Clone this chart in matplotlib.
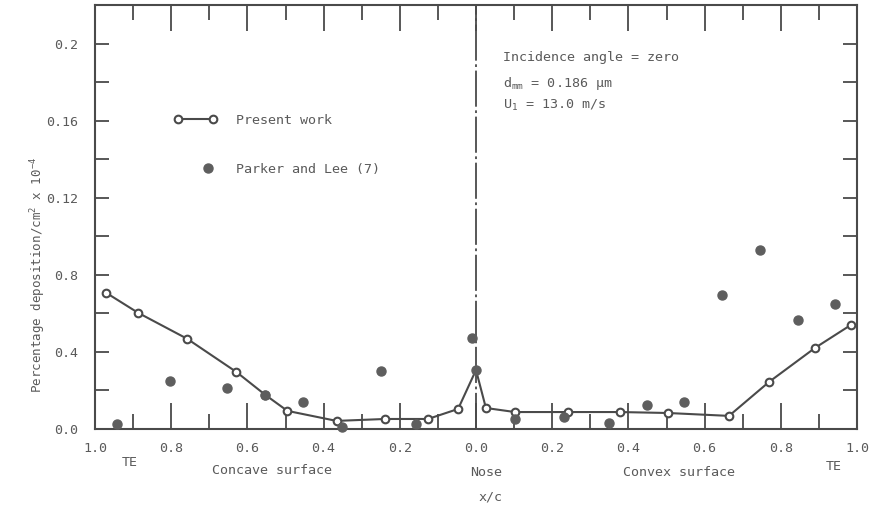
import numpy as np
import matplotlib
matplotlib.use('Agg')
import matplotlib.pyplot as plt
from matplotlib.ticker import FixedLocator, MultipleLocator
from matplotlib.legend_handler import HandlerLine2D

# typewriter look
plt.rcParams['font.family'] = ['DejaVu Sans Mono']
plt.rcParams['mathtext.fontset'] = 'custom'
plt.rcParams['mathtext.rm'] = 'DejaVu Sans Mono'
plt.rcParams['mathtext.it'] = 'DejaVu Sans Mono'
plt.rcParams['mathtext.tt'] = 'DejaVu Sans Mono'

# ---------------------------------------------------------------------------
# data (x/c along each surface, deposition values)
# ---------------------------------------------------------------------------
# Present work, concave surface (TE -> nose)
pw_concave_x = [0.971, 0.887, 0.758, 0.629, 0.553, 0.495, 0.366, 0.239, 0.126, 0.047]
pw_concave_y = [0.0707, 0.0603, 0.0468, 0.0296, 0.0177, 0.0094, 0.0042, 0.0052, 0.0052, 0.0104]
# Present work, nose peak
pw_nose_y = 0.0306
# Present work, convex surface (nose -> TE)
pw_convex_x = [0.026, 0.102, 0.242, 0.378, 0.504, 0.664, 0.769, 0.890, 0.984]
pw_convex_y = [0.0109, 0.0088, 0.0088, 0.0088, 0.0083, 0.0068, 0.0244, 0.0421, 0.0540]

# Parker and Lee (7)
pl_concave_x = [0.942, 0.803, 0.653, 0.553, 0.453, 0.353, 0.250, 0.158, 0.011]
pl_concave_y = [0.0026, 0.0249, 0.0213, 0.0177, 0.0140, 0.0010, 0.0301, 0.0026, 0.0472]
pl_convex_x = [0.0, 0.102, 0.231, 0.349, 0.449, 0.546, 0.646, 0.746, 0.844, 0.941]
pl_convex_y = [0.0306, 0.0052, 0.0062, 0.0031, 0.0125, 0.0140, 0.0696, 0.0930, 0.0566, 0.0650]

y_ticks = [0.0, 0.04, 0.08, 0.12, 0.16, 0.2]
y_ticklabels = ['0.0', '0.4', '0.8', '0.12', '0.16', '0.2']
x_ticks = [-1.0, -0.8, -0.6, -0.4, -0.2, 0.0, 0.2, 0.4, 0.6, 0.8, 1.0]
x_ticklabels = ['1.0', '0.8', '0.6', '0.4', '0.2', '0.0', '0.2', '0.4', '0.6', '0.8', '1.0']

# concave surface is plotted to the left of the nose
pw_s = [-v for v in pw_concave_x] + [0.0] + pw_convex_x
pw_y = pw_concave_y + [pw_nose_y] + pw_convex_y
pl_s = [-v for v in pl_concave_x] + pl_convex_x
pl_y = pl_concave_y + pl_convex_y
nose_idx = len(pw_concave_x)

ink = '#4a4a4a'
txt = '#5a5a5a'
fs = 9.6


class RightDot(HandlerLine2D):
    # single legend marker sitting near the right end of the handle
    def create_artists(self, legend, orig_handle, xdescent, ydescent,
                       width, height, fontsize, trans):
        arts = super().create_artists(legend, orig_handle, xdescent, ydescent,
                                      width, height, fontsize, trans)
        for a in arts:
            xd = a.get_xdata()
            a.set_xdata([xd[0], xd[0] + 0.8 * (xd[-1] - xd[0]), xd[-1]])
        return arts


fig = plt.figure(figsize=(8.83, 5.07), dpi=100)
ax = fig.add_axes([95 / 883, 1 - 429 / 507, (857 - 95) / 883, (429 - 5) / 507])

# nose reference line
ax.axvline(0.0, color=ink, lw=1.3, linestyle=(0, (20, 2, 1.5, 2)), zorder=1)

mk = [i for i in range(len(pw_s)) if i != nose_idx]
line_pw, = ax.plot(pw_s, pw_y, color=ink, lw=1.5, marker='o', ms=5.5,
                   mfc='white', mec=ink, mew=1.5, markevery=mk,
                   label='Present work', zorder=3)
line_pl, = ax.plot(pl_s, pl_y, linestyle='none', marker='o', ms=6.5,
                   color='#5e5e5e', label='Parker and Lee (7)', zorder=4,
                   clip_on=False)

ax.set_xlim(-1.0, 1.0)
ax.set_ylim(0.0, 0.22)

ax.xaxis.set_major_locator(FixedLocator(x_ticks))
ax.set_xticklabels(x_ticklabels)
ax.xaxis.set_minor_locator(MultipleLocator(0.1))
ax.yaxis.set_major_locator(FixedLocator(y_ticks))
ax.set_yticklabels(y_ticklabels)
ax.yaxis.set_minor_locator(MultipleLocator(0.02))

ax.tick_params(axis='x', which='major', direction='in', top=True, bottom=True,
               length=19, width=1.3, color=ink, labelsize=fs, labelcolor=txt, pad=9)
ax.tick_params(axis='x', which='minor', direction='in', top=True, bottom=True,
               length=11, width=1.3, color=ink)
ax.tick_params(axis='y', which='both', direction='in', left=True, right=True,
               length=10, width=1.3, color=ink, labelsize=fs, labelcolor=txt, pad=12)

for sp in ax.spines.values():
    sp.set_color(ink)
    sp.set_linewidth(1.5)

# axis labels and surface annotations
fig.text(38 / 883, 1 - 275 / 507, r'Percentage deposition/cm$^{2}$ x 10$^{-4}$',
         rotation=90, ha='center', va='center', fontsize=9, color=txt)
fig.text(490 / 883, 1 - 497 / 507, 'x/c', ha='center', va='center', fontsize=fs, color=txt)
fig.text(130 / 883, 1 - 463 / 507, 'TE', ha='center', va='center', fontsize=fs, color=txt)
fig.text(834 / 883, 1 - 467 / 507, 'TE', ha='center', va='center', fontsize=fs, color=txt)
fig.text(272 / 883, 1 - 471 / 507, 'Concave surface', ha='center', va='center', fontsize=fs, color=txt)
fig.text(486 / 883, 1 - 472 / 507, 'Nose', ha='center', va='center', fontsize=fs, color=txt)
fig.text(679 / 883, 1 - 473 / 507, 'Convex surface', ha='center', va='center', fontsize=fs, color=txt)

# run conditions
fig.text(503 / 883, 1 - 58 / 507, 'Incidence angle = zero', ha='left', va='center', fontsize=fs, color=txt)
fig.text(503 / 883, 1 - 83 / 507, r'd$_{\mathtt{mm}}$ = 0.186 µm', ha='left', va='center', fontsize=fs, color=txt)
fig.text(503 / 883, 1 - 105 / 507, r'U$_{1}$ = 13.0 m/s', ha='left', va='center', fontsize=fs, color=txt)

leg = ax.legend(handles=[line_pw, line_pl], loc='upper left',
                bbox_to_anchor=(174 / 883, 1 - 114 / 507), bbox_transform=fig.transFigure,
                frameon=False, fontsize=fs, labelcolor=txt, handlelength=3.23,
                handletextpad=1.45, labelspacing=2.7, borderpad=0, borderaxespad=0,
                handler_map={line_pw: HandlerLine2D(numpoints=2),
                             line_pl: RightDot(numpoints=1)})
leg.legend_handles[0].set_markevery(None)

plt.savefig('out.png', dpi=100)
